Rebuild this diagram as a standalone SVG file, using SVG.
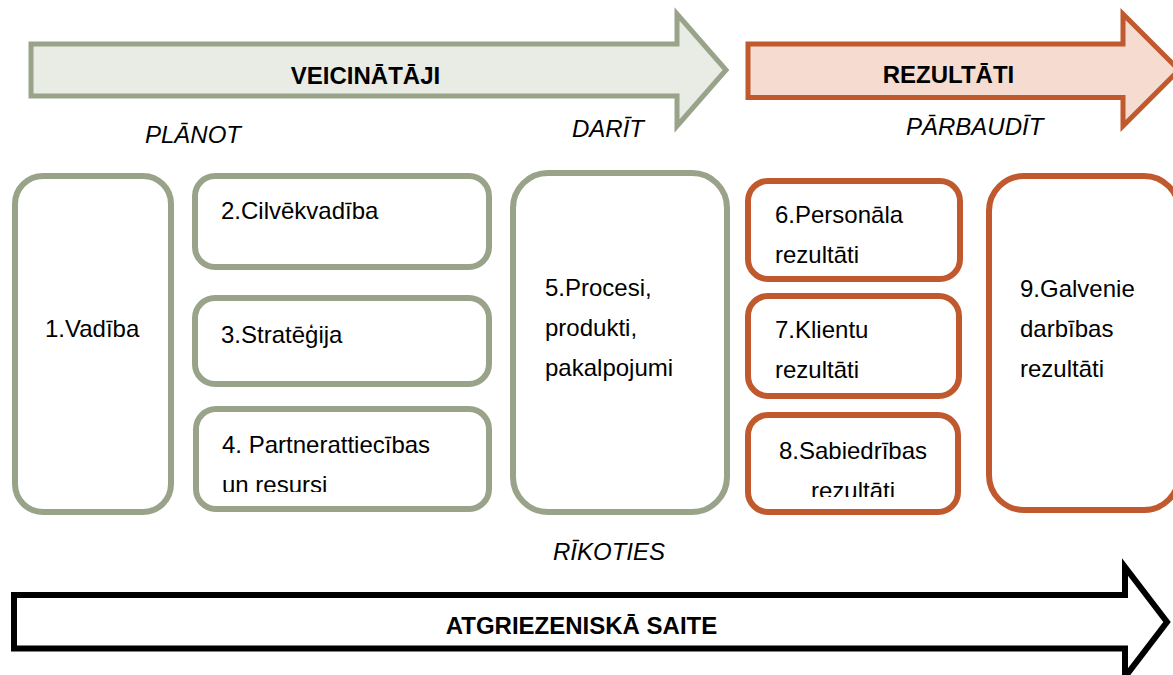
<svg xmlns="http://www.w3.org/2000/svg" width="1173" height="675" viewBox="0 0 1173 675">
<style>
.g{fill:#fff;stroke:#98a38a;stroke-width:6}
.o{fill:#fff;stroke:#c0592d;stroke-width:6}
.t{font-family:"Liberation Sans",Arial,sans-serif;font-size:24px;fill:#000}
.b{font-weight:bold}
.i{font-style:italic}
.m{text-anchor:middle}
</style>
<defs>
<clipPath id="c4"><rect x="196" y="409" width="293" height="83"/></clipPath>
<clipPath id="c8"><rect x="748" y="415" width="210" height="82"/></clipPath>
</defs>
<rect width="1173" height="675" fill="#fff"/>
<g id="arrows">
<path id="arrow-veicinataji" d="M31,44 L677,44 L677,14 L726,70 L677,126 L677,96 L31,96 Z" fill="#e9ebe5" stroke="#98a38a" stroke-width="5" stroke-linejoin="miter"/>
<path id="arrow-rezultati" d="M748,44 L1123,44 L1123,14 L1179,70 L1123,126 L1123,97.5 L748,97.5 Z" fill="#f6dcd0" stroke="#c0592d" stroke-width="5" stroke-linejoin="miter"/>
<path id="arrow-saite" d="M14,595 L1125,595 L1125,567 L1167,622 L1125,677 L1125,648.5 L14,648.5 Z" fill="#fff" stroke="#000" stroke-width="6" stroke-linejoin="miter"/>
</g>
<g id="labels">
<text class="t b m" x="365.5" y="84">VEICINĀTĀJI</text>
<text class="t b m" x="948.5" y="83">REZULTĀTI</text>
<text class="t i" x="145" y="143">PLĀNOT</text>
<text class="t i" x="572" y="137">DARĪT</text>
<text class="t i" x="906" y="135">PĀRBAUDĪT</text>
<text class="t i" x="553" y="560">RĪKOTIES</text>
<text class="t b m" x="581.5" y="634">ATGRIEZENISKĀ SAITE</text>
</g>
<g id="n1"><rect class="g" x="15" y="176" width="156" height="336" rx="28"/><text class="t" x="45" y="337">1.Vadība</text></g>
<g id="n2"><rect class="g" x="195" y="176" width="294" height="91" rx="20"/><text class="t" x="221" y="219">2.Cilvēkvadība</text></g>
<g id="n3"><rect class="g" x="195" y="298" width="294" height="86" rx="20"/><text class="t" x="221" y="343">3.Stratēģija</text></g>
<g id="n4"><rect class="g" x="196" y="409" width="293" height="100" rx="20"/><g clip-path="url(#c4)"><text class="t" x="222" y="453">4. Partnerattiecības</text><text class="t" x="222" y="493">un resursi</text></g></g>
<g id="n5"><rect class="g" x="513" y="173" width="214" height="339" rx="35"/><text class="t" x="545" y="296">5.Procesi,</text><text class="t" x="545" y="336">produkti,</text><text class="t" x="545" y="376">pakalpojumi</text></g>
<g id="n6"><rect class="o" x="748" y="181" width="212" height="98" rx="20"/><text class="t" x="775" y="223">6.Personāla</text><text class="t" x="775" y="263">rezultāti</text></g>
<g id="n7"><rect class="o" x="748" y="296" width="211" height="100" rx="20"/><text class="t" x="775" y="338">7.Klientu</text><text class="t" x="775" y="378">rezultāti</text></g>
<g id="n8"><rect class="o" x="748" y="415" width="210" height="97" rx="20"/><g clip-path="url(#c8)"><text class="t m" x="853" y="459">8.Sabiedrības</text><text class="t m" x="853" y="499">rezultāti</text></g></g>
<g id="n9"><rect class="o" x="989" y="176" width="190" height="334" rx="35"/><text class="t" x="1020" y="297">9.Galvenie</text><text class="t" x="1020" y="337">darbības</text><text class="t" x="1020" y="377">rezultāti</text></g>
</svg>
